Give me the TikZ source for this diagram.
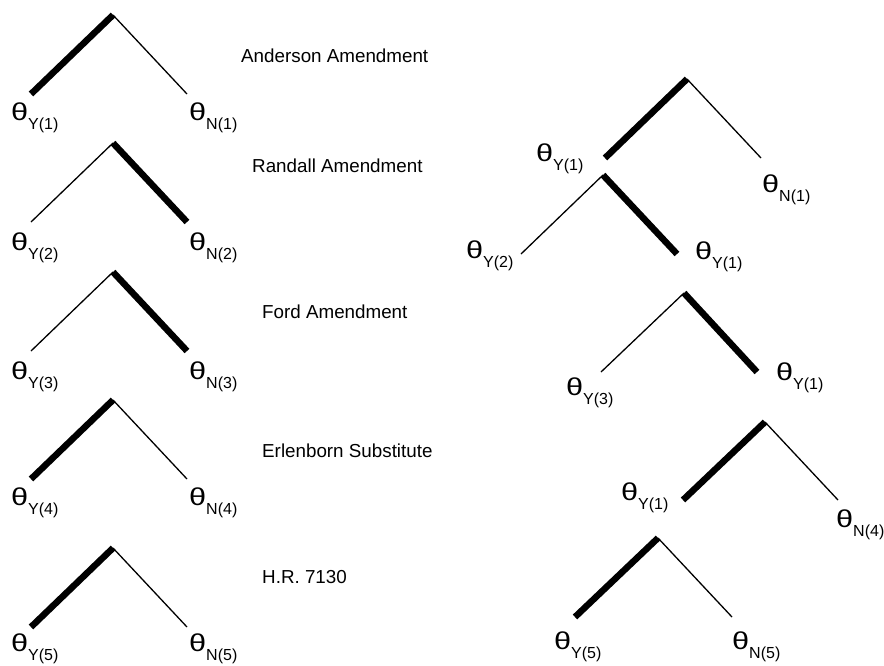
\documentclass[tikz,border=0pt]{standalone}
\usepackage{fontspec}
\setmainfont{Liberation Sans}
\usepackage{graphicx}
\newcommand{\thsub}[1]{{\fontsize{24.5}{24.5}\selectfont\scalebox{1.25}[1]{θ}}\raisebox{-9pt}{\fontsize{16}{16}\selectfont #1}}
\begin{document}
\begin{tikzpicture}[x=1pt,y=-1pt]
\tikzstyle{every node}=[inner sep=0pt, anchor=base west]
\tikzstyle{heavy}=[line width=6.5pt]
\tikzstyle{light}=[line width=1.3pt]
\tikzstyle{vote}=[font=\fontsize{18.8}{18.8}\selectfont]
\useasboundingbox (0,0) rectangle (884,665);
\coordinate (a1) at (113,15);
\coordinate (y1) at (31,94);
\coordinate (n1) at (187,94);
\coordinate (a2) at (113,143);
\coordinate (y2) at (31,222);
\coordinate (n2) at (187,222);
\coordinate (a3) at (113,272);
\coordinate (y3) at (31,351);
\coordinate (n3) at (187,351);
\coordinate (a4) at (113,400);
\coordinate (y4) at (31,479);
\coordinate (n4) at (187,479);
\coordinate (a5) at (113,548);
\coordinate (y5) at (31,627);
\coordinate (n5) at (187,627);
\draw[heavy] (y1) -- (a1);
\draw[light] (a1) -- (n1);
\draw[light] (y2) -- (a2);
\draw[heavy] (a2) -- (n2);
\draw[light] (y3) -- (a3);
\draw[heavy] (a3) -- (n3);
\draw[heavy] (y4) -- (a4);
\draw[light] (a4) -- (n4);
\draw[heavy] (y5) -- (a5);
\draw[light] (a5) -- (n5);
\draw (11,120) node (ly1) {\thsub{Y(1)}};
\draw (189,120) node (ln1) {\thsub{N(1)}};
\draw (11,250) node (ly2) {\thsub{Y(2)}};
\draw (189,250) node (ln2) {\thsub{N(2)}};
\draw (11,379) node (ly3) {\thsub{Y(3)}};
\draw (189,379) node (ln3) {\thsub{N(3)}};
\draw (11,505) node (ly4) {\thsub{Y(4)}};
\draw (189,505) node (ln4) {\thsub{N(4)}};
\draw (11,651) node (ly5) {\thsub{Y(5)}};
\draw (189,651) node (ln5) {\thsub{N(5)}};
\draw (241,62) node (v1) [vote] {Anderson Amendment};
\draw (252,172) node (v2) [vote] {Randall Amendment};
\draw (262,318) node (v3) [vote] {Ford Amendment};
\draw (262,457) node (v4) [vote] {Erlenborn Substitute};
\draw (262,583) node (v5) [vote] {H.R. 7130};
\coordinate (b1) at (687,79);
\coordinate (s1) at (605,158);
\coordinate (m1) at (761,158);
\coordinate (b2) at (603,175);
\coordinate (s2) at (521,254);
\coordinate (m2) at (677,254);
\coordinate (b3) at (684,293);
\coordinate (s3) at (601,372);
\coordinate (m3) at (757,372);
\coordinate (b4) at (765,422);
\coordinate (s4) at (683,500);
\coordinate (m4) at (838,500);
\coordinate (b5) at (658,538);
\coordinate (s5) at (575,617);
\coordinate (m5) at (732,617);
\draw[heavy] (s1) -- (b1);
\draw[light] (b1) -- (m1);
\draw[light] (s2) -- (b2);
\draw[heavy] (b2) -- (m2);
\draw[light] (s3) -- (b3);
\draw[heavy] (b3) -- (m3);
\draw[heavy] (s4) -- (b4);
\draw[light] (b4) -- (m4);
\draw[heavy] (s5) -- (b5);
\draw[light] (b5) -- (m5);
\draw (536,161) node (ls1) {\thsub{Y(1)}};
\draw (762,192) node (lm1) {\thsub{N(1)}};
\draw (466,258) node (ls2) {\thsub{Y(2)}};
\draw (695,259) node (lm2) {\thsub{Y(1)}};
\draw (566,395) node (ls3) {\thsub{Y(3)}};
\draw (776,380) node (lm3) {\thsub{Y(1)}};
\draw (621,500) node (ls4) {\thsub{Y(1)}};
\draw (836,527) node (lm4) {\thsub{N(4)}};
\draw (554,649) node (ls5) {\thsub{Y(5)}};
\draw (732,649) node (lm5) {\thsub{N(5)}};
\end{tikzpicture}
\end{document}
